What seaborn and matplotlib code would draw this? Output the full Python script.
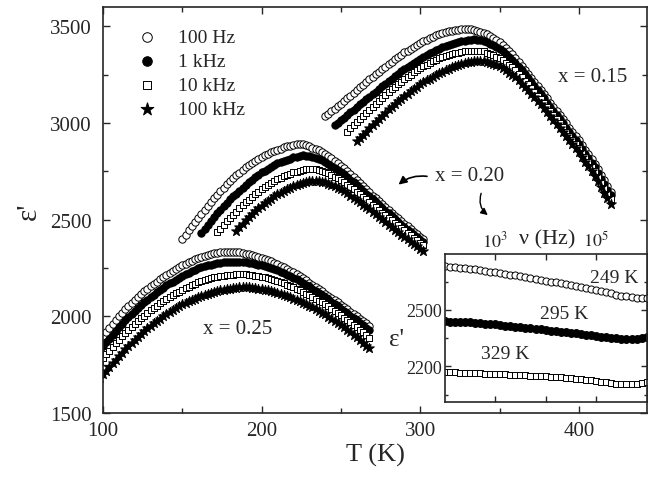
import numpy as np
import pandas as pd
import matplotlib
matplotlib.use('Agg')
import matplotlib.pyplot as plt
import seaborn as sns
from matplotlib.ticker import MultipleLocator, FixedLocator, LogLocator, FuncFormatter, NullFormatter

sns.set_style('ticks')
plt.rcParams['font.family'] = ['Liberation Serif', 'DejaVu Serif']
plt.rcParams['mathtext.fontset'] = 'stix'

freqs = ['100 Hz', '1 kHz', '10 kHz', '100 kHz']

## temperature grids (K), one reading every 2 K
T25 = np.arange(98, 269, 2)
T20 = {'100 Hz': np.arange(150, 303, 2), '1 kHz': np.arange(162, 303, 2),
       '10 kHz': np.arange(172, 303, 2), '100 kHz': np.arange(184, 303, 2)}
T15 = {'100 Hz': np.arange(240, 421, 2), '1 kHz': np.arange(246, 421, 2),
       '10 kHz': np.arange(254, 421, 2), '100 kHz': np.arange(260, 421, 2)}

## x = 0.25
e25_100 = [1880, 1900, 1921, 1941, 1961, 1981, 2000, 2018, 2036, 2053,
           2069, 2085, 2100, 2115, 2129, 2142, 2155, 2168, 2180, 2192,
           2204, 2215, 2225, 2236, 2246, 2256, 2265, 2273, 2281, 2288,
           2295, 2302, 2307, 2313, 2318, 2323, 2327, 2330, 2332, 2334,
           2335, 2334, 2334, 2333, 2331, 2328, 2325, 2321, 2317, 2313,
           2308, 2303, 2297, 2290, 2284, 2277, 2270, 2262, 2254, 2245,
           2237, 2228, 2218, 2208, 2197, 2186, 2175, 2164, 2152, 2141,
           2129, 2118, 2106, 2095, 2083, 2072, 2060, 2048, 2036, 2024,
           2012, 2000, 1988, 1975, 1963, 1950]
e25_1k = [1823, 1845, 1865, 1885, 1905, 1925, 1945, 1962, 1979, 1996,
          2013, 2030, 2044, 2058, 2072, 2086, 2100, 2112, 2124, 2136,
          2148, 2160, 2170, 2180, 2190, 2200, 2210, 2218, 2225, 2233,
          2240, 2248, 2253, 2258, 2263, 2268, 2272, 2275, 2278, 2280,
          2282, 2283, 2283, 2282, 2282, 2281, 2280, 2277, 2274, 2271,
          2268, 2265, 2260, 2254, 2249, 2243, 2238, 2230, 2223, 2215,
          2208, 2200, 2191, 2182, 2173, 2164, 2155, 2144, 2133, 2122,
          2111, 2100, 2088, 2076, 2064, 2052, 2040, 2028, 2016, 2004,
          1992, 1980, 1967, 1954, 1941, 1928]
e25_10k = [1765, 1785, 1804, 1823, 1842, 1861, 1880, 1896, 1913, 1929,
           1946, 1962, 1976, 1990, 2004, 2018, 2032, 2044, 2055, 2067,
           2078, 2090, 2100, 2109, 2119, 2128, 2138, 2146, 2153, 2161,
           2168, 2176, 2181, 2186, 2191, 2196, 2201, 2204, 2207, 2210,
           2212, 2215, 2216, 2217, 2218, 2218, 2217, 2215, 2213, 2210,
           2208, 2205, 2201, 2196, 2192, 2187, 2183, 2176, 2170, 2163,
           2157, 2150, 2142, 2134, 2126, 2118, 2110, 2100, 2091, 2081,
           2072, 2062, 2051, 2040, 2029, 2017, 2005, 1993, 1981, 1969,
           1957, 1945, 1931, 1918, 1904, 1890]
e25_100k = [1680, 1700, 1719, 1738, 1757, 1776, 1795, 1812, 1829, 1846,
            1863, 1880, 1894, 1909, 1923, 1938, 1952, 1964, 1976, 1988,
            2000, 2012, 2022, 2032, 2042, 2052, 2062, 2070, 2077, 2085,
            2092, 2100, 2105, 2111, 2116, 2122, 2127, 2130, 2134, 2137,
            2141, 2144, 2146, 2148, 2150, 2151, 2151, 2150, 2148, 2146,
            2144, 2142, 2138, 2134, 2130, 2126, 2122, 2116, 2110, 2104,
            2098, 2092, 2085, 2077, 2070, 2062, 2055, 2046, 2037, 2028,
            2019, 2010, 1999, 1988, 1977, 1966, 1955, 1943, 1930, 1918,
            1905, 1892, 1878, 1864, 1849, 1835]

## x = 0.20
e20_100 = [2400, 2423, 2445, 2467, 2489, 2510, 2530, 2551, 2571, 2590,
           2610, 2628, 2646, 2664, 2682, 2700, 2715, 2729, 2743, 2757,
           2770, 2781, 2792, 2803, 2814, 2825, 2833, 2840, 2848, 2855,
           2862, 2868, 2874, 2879, 2883, 2887, 2890, 2891, 2889, 2885,
           2880, 2873, 2865, 2858, 2849, 2840, 2829, 2817, 2805, 2792,
           2780, 2765, 2750, 2735, 2720, 2705, 2689, 2673, 2657, 2641,
           2625, 2610, 2595, 2580, 2565, 2550, 2536, 2521, 2507, 2492,
           2478, 2465, 2452, 2438, 2425, 2412, 2400]
e20_1k = [2432, 2453, 2474, 2494, 2515, 2533, 2551, 2569, 2587, 2605,
          2620, 2635, 2650, 2665, 2680, 2693, 2706, 2719, 2732, 2745,
          2754, 2764, 2773, 2783, 2792, 2798, 2804, 2810, 2816, 2822,
          2826, 2829, 2832, 2831, 2830, 2826, 2820, 2814, 2807, 2800,
          2790, 2780, 2769, 2759, 2748, 2734, 2721, 2707, 2694, 2680,
          2665, 2650, 2635, 2620, 2605, 2590, 2576, 2561, 2547, 2532,
          2518, 2503, 2489, 2474, 2460, 2447, 2435, 2422, 2410, 2397,
          2385]
e20_10k = [2435, 2454, 2473, 2491, 2510, 2526, 2542, 2558, 2574, 2590,
           2604, 2617, 2631, 2644, 2658, 2668, 2679, 2689, 2700, 2710,
           2717, 2724, 2731, 2738, 2745, 2749, 2753, 2757, 2760, 2762,
           2763, 2761, 2758, 2753, 2748, 2740, 2731, 2723, 2714, 2705,
           2693, 2681, 2669, 2657, 2645, 2632, 2618, 2605, 2591, 2578,
           2564, 2551, 2537, 2524, 2510, 2497, 2484, 2471, 2458, 2445,
           2432, 2419, 2406, 2393, 2380, 2367]
e20_100k = [2444, 2462, 2480, 2497, 2513, 2528, 2543, 2558, 2573, 2585,
            2597, 2608, 2620, 2632, 2640, 2648, 2657, 2665, 2673, 2678,
            2683, 2688, 2693, 2698, 2700, 2702, 2700, 2697, 2693, 2686,
            2679, 2672, 2665, 2658, 2647, 2636, 2625, 2614, 2603, 2590,
            2578, 2565, 2553, 2540, 2527, 2514, 2501, 2488, 2475, 2462,
            2449, 2436, 2423, 2410, 2398, 2386, 2374, 2362, 2350, 2337]

## x = 0.15
e15_100 = [3035, 3048, 3061, 3074, 3087, 3100, 3114, 3128, 3142, 3156,
           3170, 3184, 3198, 3212, 3226, 3240, 3253, 3266, 3279, 3292,
           3305, 3317, 3329, 3341, 3353, 3365, 3375, 3385, 3395, 3405,
           3415, 3423, 3431, 3439, 3447, 3455, 3460, 3465, 3469, 3474,
           3478, 3481, 3483, 3485, 3487, 3486, 3484, 3481, 3477, 3473,
           3468, 3459, 3450, 3440, 3430, 3420, 3404, 3388, 3372, 3355,
           3338, 3317, 3297, 3276, 3256, 3235, 3214, 3192, 3171, 3149,
           3128, 3106, 3085, 3063, 3042, 3020, 2998, 2976, 2954, 2932,
           2910, 2886, 2862, 2838, 2814, 2790, 2761, 2732, 2703, 2674,
           2645]
e15_1k = [2990, 3002, 3015, 3028, 3042, 3055, 3069, 3082, 3096, 3109,
          3123, 3136, 3150, 3163, 3177, 3190, 3204, 3217, 3229, 3242,
          3254, 3267, 3279, 3290, 3301, 3311, 3322, 3333, 3342, 3351,
          3360, 3369, 3378, 3384, 3391, 3397, 3404, 3410, 3414, 3418,
          3422, 3426, 3430, 3432, 3433, 3431, 3428, 3425, 3418, 3410,
          3402, 3394, 3385, 3371, 3356, 3341, 3327, 3312, 3292, 3272,
          3253, 3233, 3213, 3191, 3170, 3148, 3127, 3105, 3084, 3062,
          3041, 3019, 2998, 2976, 2955, 2933, 2912, 2890, 2866, 2842,
          2818, 2794, 2770, 2742, 2713, 2685, 2656, 2628]
e15_10k = [2955, 2972, 2988, 3005, 3021, 3037, 3053, 3069, 3085, 3100,
           3115, 3130, 3145, 3160, 3174, 3187, 3201, 3214, 3228, 3239,
           3251, 3262, 3274, 3285, 3294, 3302, 3311, 3319, 3328, 3334,
           3340, 3345, 3351, 3357, 3360, 3363, 3367, 3370, 3373, 3374,
           3375, 3374, 3372, 3370, 3364, 3357, 3351, 3344, 3338, 3325,
           3313, 3300, 3288, 3275, 3256, 3238, 3219, 3201, 3182, 3162,
           3142, 3122, 3102, 3082, 3061, 3040, 3019, 2998, 2977, 2956,
           2934, 2913, 2891, 2870, 2846, 2822, 2798, 2774, 2750, 2721,
           2692, 2663, 2634, 2605]
e15_100k = [2905, 2922, 2939, 2956, 2973, 2990, 3006, 3022, 3038, 3054,
            3070, 3084, 3098, 3112, 3126, 3140, 3152, 3164, 3176, 3188,
            3200, 3210, 3220, 3230, 3240, 3250, 3258, 3266, 3274, 3282,
            3290, 3295, 3300, 3305, 3310, 3315, 3318, 3321, 3323, 3322,
            3320, 3315, 3310, 3305, 3300, 3295, 3284, 3272, 3261, 3249,
            3238, 3221, 3204, 3186, 3169, 3152, 3133, 3114, 3096, 3077,
            3058, 3037, 3017, 2996, 2976, 2955, 2934, 2912, 2891, 2869,
            2848, 2824, 2800, 2776, 2752, 2728, 2698, 2669, 2639, 2610,
            2580]

## inset: eps' vs frequency, log10(f) from 2 to 6 in steps of 0.1
logf = np.arange(0, 41) / 10 + 2
e249 = [2730, 2728, 2725, 2723, 2720, 2717, 2714, 2710, 2707, 2703,
        2699, 2695, 2691, 2687, 2682, 2678, 2673, 2669, 2664, 2659,
        2655, 2650, 2645, 2640, 2635, 2630, 2625, 2620, 2615, 2610,
        2605, 2599, 2593, 2587, 2581, 2576, 2571, 2566, 2563, 2561,
        2561]
e295 = [2439, 2438, 2437, 2436, 2434, 2433, 2431, 2429, 2427, 2425,
        2423, 2420, 2417, 2414, 2411, 2408, 2405, 2402, 2399, 2396,
        2393, 2390, 2387, 2384, 2381, 2378, 2375, 2371, 2368, 2365,
        2362, 2358, 2355, 2352, 2349, 2347, 2345, 2345, 2347, 2350,
        2354]
e329 = [2171, 2170, 2169, 2168, 2167, 2166, 2165, 2164, 2162, 2161,
        2160, 2159, 2158, 2157, 2155, 2154, 2153, 2151, 2150, 2149,
        2148, 2146, 2144, 2142, 2140, 2137, 2135, 2132, 2129, 2127,
        2124, 2120, 2116, 2112, 2108, 2106, 2105, 2105, 2108, 2113,
        2119]

eps = {
    '100 Hz': [(T25, e25_100), (T20['100 Hz'], e20_100), (T15['100 Hz'], e15_100)],
    '1 kHz': [(T25, e25_1k), (T20['1 kHz'], e20_1k), (T15['1 kHz'], e15_1k)],
    '10 kHz': [(T25, e25_10k), (T20['10 kHz'], e20_10k), (T15['10 kHz'], e15_10k)],
    '100 kHz': [(T25, e25_100k), (T20['100 kHz'], e20_100k), (T15['100 kHz'], e15_100k)],
}

rows = []
for f in freqs:
    for T, e in eps[f]:
        rows.append(pd.DataFrame({'T': T, 'eps': e, 'freq': f}))
df = pd.concat(rows, ignore_index=True)

styles = {
    '100 Hz': dict(marker='o', facecolor='white', s=28),
    '1 kHz': dict(marker='o', facecolor='black', s=28),
    '10 kHz': dict(marker='s', facecolor='white', s=22),
    '100 kHz': dict(marker='*', facecolor='black', s=55),
}

fig = plt.figure(figsize=(6.48, 4.81), dpi=100)
ax = fig.add_axes([0.159, 0.1393, 0.8395, 0.844])

for f in freqs:
    sub = df[df['freq'] == f]
    sns.scatterplot(data=sub, x='T', y='eps', ax=ax, edgecolor='black',
                    linewidth=0.7, label=f, **styles[f])

ax.set_xlim(100, 443)
ax.set_ylim(1500, 3600)
ax.xaxis.set_major_locator(MultipleLocator(100))
ax.xaxis.set_minor_locator(MultipleLocator(50))
ax.yaxis.set_major_locator(MultipleLocator(500))
ax.yaxis.set_minor_locator(MultipleLocator(250))
ax.tick_params(which='both', direction='in', top=True, right=True, width=1.0)
ax.tick_params(which='major', length=5)
ax.tick_params(which='minor', length=3.5)
ax.tick_params(axis='x', labelsize=15, pad=6)
ax.tick_params(axis='y', labelsize=15, pad=8)
for sp in ax.spines.values():
    sp.set_linewidth(1.2)
ax.set_xlabel('T (K)', fontsize=19, labelpad=2)
ax.set_ylabel("ε'", fontsize=21, labelpad=6)

ax.legend(loc='upper left', bbox_to_anchor=(0.02, 0.98), frameon=False,
          fontsize=14, markerscale=1.3, handletextpad=0.6, labelspacing=0.33,
          borderaxespad=0.3)

ax.text(409, 3239, 'x = 0.15', fontsize=15, ha='center', va='center')
ax.text(331, 2727, 'x = 0.20', fontsize=15, ha='center', va='center')
ax.text(185, 1935, 'x = 0.25', fontsize=15, ha='center', va='center')
ax.annotate('', xy=(285, 2672), xytext=(306, 2722),
            arrowprops=dict(arrowstyle='-|>', color='black', lw=1.2,
                            connectionstyle='arc3,rad=0.25', mutation_scale=12))
ax.annotate('', xy=(344, 2515), xytext=(339, 2650),
            arrowprops=dict(arrowstyle='-|>', color='black', lw=1.0,
                            connectionstyle='arc3,rad=0.4', mutation_scale=10))

## inset
axin = fig.add_axes([0.686, 0.1615, 0.312, 0.308])
axin.set_facecolor('white')
fvals = 10 ** logf
sns.scatterplot(x=fvals, y=e249, ax=axin, marker='o', facecolor='white',
                edgecolor='black', linewidth=0.7, s=26)
sns.scatterplot(x=fvals, y=e295, ax=axin, marker='o', facecolor='black',
                edgecolor='black', linewidth=0.7, s=32)
sns.scatterplot(x=fvals, y=e329, ax=axin, marker='s', facecolor='white',
                edgecolor='black', linewidth=0.7, s=22)
axin.set_xscale('log')
axin.set_xlim(1e2, 1e6)
axin.set_ylim(2010, 2795)
axin.xaxis.set_major_locator(FixedLocator([1e3, 1e4, 1e5]))
axin.xaxis.set_major_formatter(FuncFormatter(
    lambda v, p: {3: r'$10^3$', 5: r'$10^5$'}.get(int(round(np.log10(v))), '')))
axin.xaxis.set_minor_locator(LogLocator(base=10, subs=np.arange(2, 10)))
axin.xaxis.set_minor_formatter(NullFormatter())
axin.yaxis.set_major_locator(FixedLocator([2200, 2500]))
axin.yaxis.set_minor_locator(FixedLocator([2050, 2350, 2650]))
axin.tick_params(which='both', direction='in', top=True, bottom=True,
                 left=True, right=True, labelbottom=False, labeltop=True, width=1.0)
axin.tick_params(which='major', length=4)
axin.tick_params(which='minor', length=2)
axin.tick_params(axis='x', labelsize=13, pad=3)
axin.tick_params(axis='y', labelsize=13, pad=2)
for sp in axin.spines.values():
    sp.set_linewidth(1.2)
axin.set_xlabel('')
axin.set_ylabel("ε'", fontsize=18, rotation=0, ha='right', va='center')
axin.yaxis.set_label_coords(-0.2, 0.43)
axin.text(0.508, 1.04, 'ν (Hz)', transform=axin.transAxes, fontsize=16,
          ha='center', va='bottom')
axin.text(0.96, 0.84, '249 K', transform=axin.transAxes, fontsize=14, ha='right', va='center')
axin.text(0.71, 0.60, '295 K', transform=axin.transAxes, fontsize=14, ha='right', va='center')
axin.text(0.42, 0.33, '329 K', transform=axin.transAxes, fontsize=14, ha='right', va='center')

fig.savefig('out.png', dpi=100)
